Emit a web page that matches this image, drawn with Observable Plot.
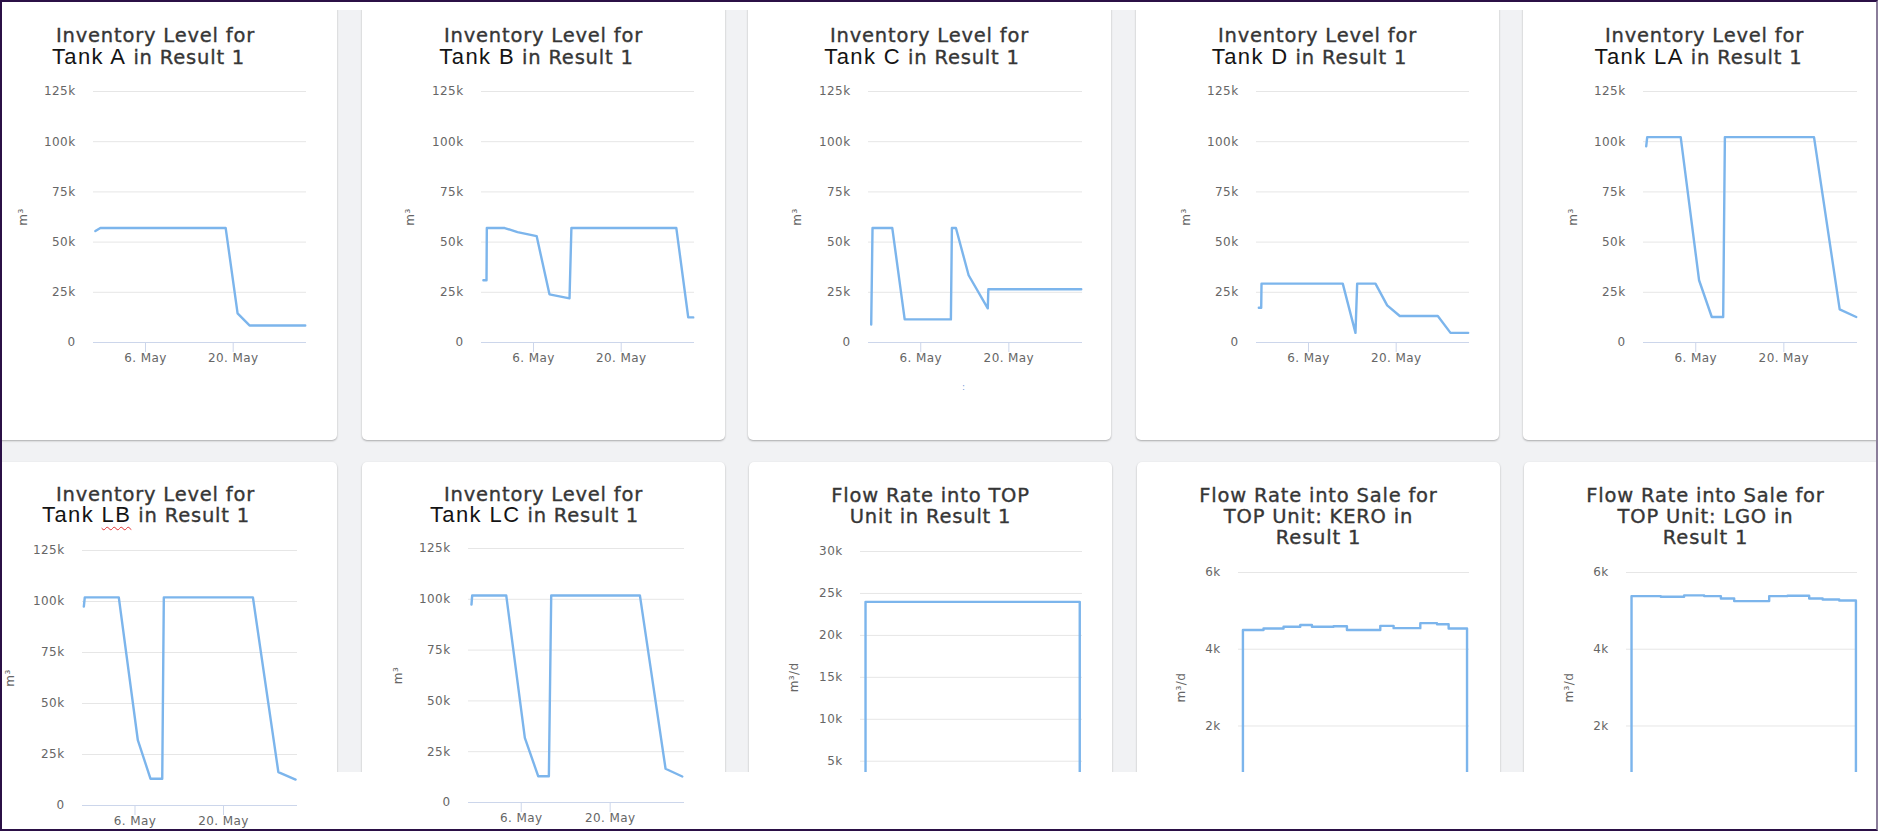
<!DOCTYPE html>
<html><head><meta charset="utf-8">
<script src="https://cdn.jsdelivr.net/npm/d3@7"></script>
<script src="https://cdn.jsdelivr.net/npm/@observablehq/plot@0.6"></script>
<style>
html,body{margin:0;padding:0;}
body{width:1878px;height:831px;overflow:hidden;position:relative;background:#f1f2f4;font-family:"DejaVu Sans",sans-serif;}
.card{position:absolute;background:#fff;border-radius:5px;box-shadow:0 1px 2px rgba(0,0,0,0.30);}
.tl{position:absolute;width:363px;text-align:center;color:#363636;font-size:19.5px;letter-spacing:0.8px;line-height:19px;white-space:nowrap;-webkit-text-stroke:0.35px #363636;}
.tl.l1{line-height:14px;}
.tank{display:inline-block;line-height:18px;font-family:"Liberation Sans",Arial,sans-serif;font-size:22px;letter-spacing:1.4px;color:#141414;-webkit-text-stroke:0;}
.wavy{text-decoration:underline wavy #e03030;text-decoration-thickness:1px;text-underline-offset:4px;}
.chart{position:absolute;}
.band{position:absolute;background:#fff;z-index:2;}
.frame{position:absolute;left:0;top:0;width:1878px;height:831px;box-sizing:border-box;border:2px solid #2b1046;border-right-color:#8a7d9a;pointer-events:none;z-index:10;}
</style>
</head><body>
<script>
// ---------- data ----------
const xDomainDays = [-2.3, 31.7];            // day of May 2019 (0 = 30 Apr)
const xTickDays = [6, 20];
const xTickLabels = ["6. May", "20. May"];

const invTicks = [0, 25000, 50000, 75000, 100000, 125000];
const invTickLabels = ["0", "25k", "50k", "75k", "100k", "125k"];
const topTicks = [5000, 10000, 15000, 20000, 25000, 30000];
const topTickLabels = ["5k", "10k", "15k", "20k", "25k", "30k"];
const saleTicks = [2000, 4000, 6000];
const saleTickLabels = ["2k", "4k", "6k"];

const tankA_days = [-2.0, -1.2, 18.8, 20.7, 22.6, 31.5];
const tankA_vals = [55500, 57000, 57000, 14500, 8500, 8500];

const tankB_days = [-2.0, -1.5, -1.45, 1.4, 3.45, 6.5, 8.55, 11.75, 12.05, 28.8, 30.7, 31.5];
const tankB_vals = [31000, 31000, 57000, 57000, 55000, 53000, 24000, 22000, 57000, 57000, 12500, 12500];

const tankC_days = [-1.87, -1.66, 1.48, 3.45, 10.79, 10.95, 11.59, 13.61, 16.65, 16.74, 31.5];
const tankC_vals = [9000, 57000, 57000, 11500, 11500, 57000, 57000, 33500, 17000, 26500, 26500];

const tankD_days = [-1.93, -1.55, -1.5, 11.47, 13.5, 13.77, 16.69, 18.56, 20.57, 26.64, 28.67, 31.49];
const tankD_vals = [17300, 17300, 29300, 29300, 4800, 29300, 29300, 18500, 13200, 13200, 4800, 4800];

const tankLA_days = [-1.87, -1.71, 3.61, 6.53, 8.55, 10.36, 10.63, 24.79, 28.87, 31.5];
const tankLA_vals = [97700, 102300, 102300, 31000, 12700, 12700, 102300, 102300, 16500, 12700];

const tankLB_days = [-2.09, -1.94, 3.44, 6.45, 8.46, 10.31, 10.56, 24.65, 28.67, 31.4];
const tankLB_vals = [97500, 102000, 102000, 32000, 13100, 13100, 102000, 102000, 16400, 12700];

const tankLC_days = [-1.83, -1.72, 3.64, 6.57, 8.68, 10.35, 10.72, 24.68, 28.72, 31.35];
const tankLC_vals = [97400, 101900, 101900, 31800, 12900, 12900, 101900, 101900, 16600, 12800];

const topStartDays = [-1.53];
const topVals = [24000];
const topEndDay = 31.28;

const keroStartDays = [-1.65, 1.38, 4.33, 6.79, 8.51, 11.69, 13.66, 18.57, 20.53, 24.46, 26.92, 28.63];
const keroVals = [4500, 4540, 4585, 4630, 4585, 4600, 4500, 4610, 4550, 4680, 4650, 4540];
const keroEndDay = 31.34;

const lgoStartDays = [-1.56, 2.75, 6.18, 9.13, 11.59, 13.55, 18.7, 21.41, 24.59, 26.57, 29.01];
const lgoVals = [5385, 5367, 5403, 5385, 5324, 5254, 5385, 5394, 5324, 5298, 5272];
const lgoEndDay = 31.47;

// ---------- helpers ----------
function d2date(d){ return new Date(Date.UTC(2019,4,1) + (d-1)*864e5); }
function invData(days, vals){ return days.map((d,i)=>({x:d2date(d), y:vals[i]})); }
function stepData(starts, vals, end){
  const pts=[{x:d2date(starts[0]), y:0}];
  starts.forEach((d,i)=>pts.push({x:d2date(d), y:vals[i]}));
  pts.push({x:d2date(end), y:vals[vals.length-1]});
  pts.push({x:d2date(end), y:0});
  return pts;
}
const xTickDates = xTickDays.map(d2date);

// ---------- layout ----------
const charts = [
  {card:[-26,-10,450], t1:29, t2:47.7, title:["Inventory Level for"], tank:"Tank A", shift:-7,
   x0:93, x1:306, yTop:91, yZero:342, yMax:125000, ticks:invTicks, labels:invTickLabels,
   data:invData(tankA_days,tankA_vals), curve:"linear", ytitle:"m³", ytx:23, showX:true},
  {card:[362,-10,450], t1:29, t2:47.7, title:["Inventory Level for"], tank:"Tank B", shift:-7,
   x0:481, x1:694, yTop:91, yZero:342, yMax:125000, ticks:invTicks, labels:invTickLabels,
   data:invData(tankB_days,tankB_vals), curve:"linear", ytitle:"m³", ytx:410, showX:true},
  {card:[748,-10,450], t1:29, t2:47.7, title:["Inventory Level for"], tank:"Tank C", shift:-7.5,
   x0:868, x1:1082, yTop:91, yZero:342, yMax:125000, ticks:invTicks, labels:invTickLabels,
   data:invData(tankC_days,tankC_vals), curve:"linear", ytitle:"m³", ytx:797, showX:true},
  {card:[1136,-10,450], t1:29, t2:47.7, title:["Inventory Level for"], tank:"Tank D", shift:-8,
   x0:1256, x1:1469, yTop:91, yZero:342, yMax:125000, ticks:invTicks, labels:invTickLabels,
   data:invData(tankD_days,tankD_vals), curve:"linear", ytitle:"m³", ytx:1185.5, showX:true},
  {card:[1523,-10,450], t1:29, t2:47.7, title:["Inventory Level for"], tank:"Tank LA", shift:-6,
   x0:1643, x1:1857, yTop:91, yZero:342, yMax:125000, ticks:invTicks, labels:invTickLabels,
   data:invData(tankLA_days,tankLA_vals), curve:"linear", ytitle:"m³", ytx:1573, showX:true},
  {card:[-26,462,420], t1:487.5, t2:506.2, title:["Inventory Level for"], tank:"Tank LB", wavy:true, shift:-9.5,
   x0:82, x1:297, yTop:550, yZero:805, yMax:125000, ticks:invTicks, labels:invTickLabels,
   data:invData(tankLB_days,tankLB_vals), curve:"linear", ytitle:"m³", ytx:10, showX:true, top:true},
  {card:[362,462,420], t1:487.5, t2:506.2, title:["Inventory Level for"], tank:"Tank LC", shift:-9,
   x0:468, x1:684, yTop:548, yZero:802, yMax:125000, ticks:invTicks, labels:invTickLabels,
   data:invData(tankLC_days,tankLC_vals), curve:"linear", ytitle:"m³", ytx:397.5, showX:true, top:true},
  {card:[749,462,420], t1:485.8, title:["Flow Rate into TOP","Unit in Result 1"],
   x0:860, x1:1082, yTop:551, yZero:802.7, yMax:30000, ticks:topTicks, labels:topTickLabels,
   data:stepData(topStartDays,topVals,topEndDay), curve:"step-after", ytitle:"m³/d", ytx:794, showX:false},
  {card:[1137,462,420], t1:485.8, title:["Flow Rate into Sale for","TOP Unit: KERO in","Result 1"],
   x0:1238, x1:1469, yTop:572.3, yZero:802.5, yMax:6000, ticks:saleTicks, labels:saleTickLabels,
   data:stepData(keroStartDays,keroVals,keroEndDay), curve:"step-after", ytitle:"m³/d", ytx:1180.5, showX:false},
  {card:[1524,462,420], t1:485.8, title:["Flow Rate into Sale for","TOP Unit: LGO in","Result 1"],
   x0:1626, x1:1857, yTop:572.3, yZero:802.5, yMax:6000, ticks:saleTicks, labels:saleTickLabels,
   data:stepData(lgoStartDays,lgoVals,lgoEndDay), curve:"step-after", ytitle:"m³/d", ytx:1569, showX:false}
];

function el(tag, cls, styles, html){
  const e=document.createElement(tag); if(cls) e.className=cls;
  Object.assign(e.style, styles||{}); if(html!=null) e.innerHTML=html;
  document.body.appendChild(e); return e;
}

charts.forEach(c=>{
  const [cl, ct, ch] = c.card;
  el("div","card",{left:cl+"px",top:ct+"px",width:"363px",height:ch+"px"});
  // title
  c.title.forEach((line,i)=>{
    el("div", c.tank ? "tl l1" : "tl", {left:cl+"px",top:(c.t1+21*i)+"px"}, line);
  });
  if(c.tank){
    const name = c.wavy ? c.tank.replace(/(\S+)$/, '<span class="wavy">$1</span>') : c.tank;
    el("div","tl",{left:cl+"px",top:c.t2+"px",transform:`translateX(${c.shift}px)`},
       `<span class="tank">${name}</span> in Result 1`);
  }
  // chart
  const svgLeft = cl < 0 ? 0 : cl;
  const svgTop = c.yTop - 25;
  const mL = c.x0 - svgLeft, mT = c.yTop - svgTop, mR = 10, mB = 32;
  const W = c.x1 - svgLeft + mR, H = (c.yZero - svgTop) + mB;
  const gridTicks = c.ticks.filter(t=>t!==0);
  const marks = [
    Plot.gridY(gridTicks, {stroke:"#e6e6e6", strokeOpacity:1}),
    Plot.axisY(c.ticks, {tickSize:0, tickPadding:18, fill:"#666", label:null,
       tickFormat:d=>c.labels[c.ticks.indexOf(d)]}),
  ];
  if(c.showX){
    marks.push(Plot.ruleY([0], {stroke:"#ccd6eb"}));
    marks.push(Plot.axisX(xTickDates, {tickSize:10, tickPadding:1, stroke:"#ccd6eb", fill:"#666", label:null,
       tickFormat:d=>xTickLabels[xTickDates.findIndex(t=>+t===+d)]}));
  }
  marks.push(Plot.line(c.data, {x:"x", y:"y", stroke:"#7cb5ec", strokeWidth:2.4, curve:c.curve}));
  marks.push(Plot.text([c.ytitle], {text:d=>d, frameAnchor:"left", dx:c.ytx - c.x0, rotate:-90,
       fill:"#666", fontSize:12, textAnchor:"middle", lineAnchor:"middle"}));
  const svg = Plot.plot({
    width:W, height:H, marginLeft:mL, marginRight:mR, marginTop:mT, marginBottom:mB,
    x:{type:"utc", domain:xDomainDays.map(d2date), ...(c.showX?{}:{axis:null})},
    y:{domain:[0,c.yMax]},
    style:{fontFamily:"DejaVu Sans", fontSize:"12px", letterSpacing:"0.4px", background:"transparent", overflow:"visible", color:"#666"},
    marks
  });
  svg.classList.add("chart");
  svg.style.position="absolute";
  svg.style.left=svgLeft+"px";
  svg.style.top=svgTop+"px";
  svg.style.maxWidth="none";
  if(c.top) svg.style.zIndex="3";
  document.body.appendChild(svg);
});

// collage bands and frame
el("div","band",{left:"0px",top:"0px",width:"1878px",height:"10px"});
el("div","band",{left:"300px",top:"772px",width:"1578px",height:"59px"});
el("div","",{position:"absolute",left:"962px",top:"382px",fontSize:"9px",color:"#7a9ad8"}, ":");
el("div","frame");
</script>
</body></html>
